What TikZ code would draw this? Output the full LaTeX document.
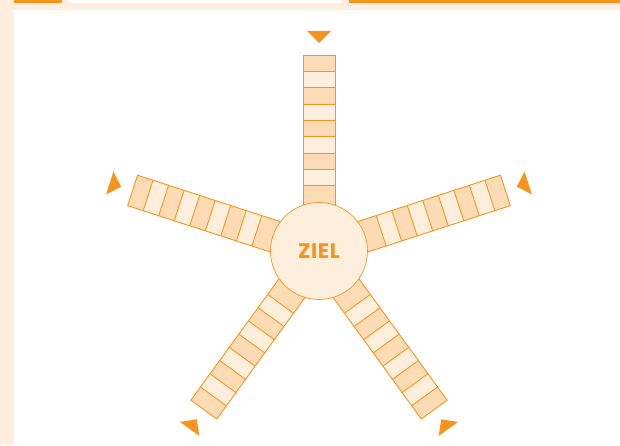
\documentclass[tikz,border=0pt]{standalone}
\usepackage{fontspec}
\newfontfamily\zielfont[LetterSpace=3]{Poppins}
\definecolor{zielorange}{HTML}{F7941D}
\definecolor{zieldark}{HTML}{FDDCB5}
\definecolor{ziellight}{HTML}{FEEEDC}
\definecolor{zielframe}{HTML}{FFEEDD}
\tikzset{
  feld/.style={draw=zielorange, line width=0.9pt},
  spitze/.style={fill=zielorange},
}
\begin{document}
\begin{tikzpicture}[x=1pt,y=1pt]
\useasboundingbox (0,0) rectangle (620,445);
% rahmen
\fill[zielframe] (0,0) rectangle (14,445);
\fill[zielframe] (0,435) rectangle (620,445);
\fill[zielorange] (14,442) rectangle (62,445);
\fill[white] (69,442) rectangle (342,445);
\fill[zielorange] (349,442) rectangle (620,445);
% fuenf strahlen
\foreach \w in {90,162,234,306,18} {
  \begin{scope}[shift={(319,194)}, rotate={\w-90}]
    \fill[zieldark] (-16,40) rectangle (16,196);
    \foreach \i in {1,3,5,7}
      \fill[ziellight] (-16,{196-16.33*(\i+1)}) rectangle (16,{196-16.33*\i});
    \draw[feld] (-16,40) rectangle (16,196);
    \foreach \i in {1,...,8}
      \draw[feld] (-16,{196-16.33*\i}) -- (16,{196-16.33*\i});
    \fill[spitze] (-12,220) -- (12,220) -- (0,208) -- cycle;
  \end{scope}
}
\node[circle, draw=zielorange, fill=ziellight, line width=0.7pt, minimum size=97pt, inner sep=0pt,
  font=\zielfont\bfseries\fontsize{21}{21}\selectfont, text=zielorange] (ziel) at (319,194) {ZIEL};
\end{tikzpicture}
\end{document}
